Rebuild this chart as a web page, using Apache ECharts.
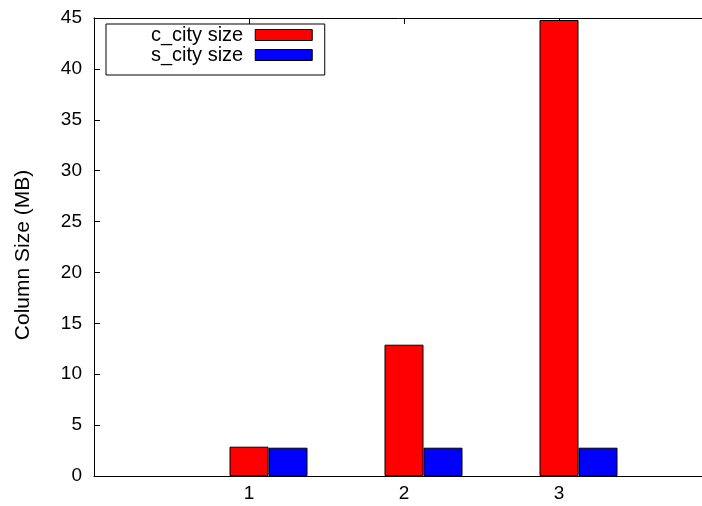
<!DOCTYPE html>
<html>
<head>
<meta charset="utf-8">
<script src="https://cdn.jsdelivr.net/npm/echarts@6/dist/echarts.min.js"></script>
<style>
  html, body { margin: 0; padding: 0; background: #fff; }
  #chart { width: 702px; height: 506px; }
</style>
</head>
<body>
<div id="chart"></div>
<script>
const categories = [1, 2, 3]
const cCitySize = [2.88, 12.9, 44.8]
const sCitySize = [2.78, 2.78, 2.78]
const yTicks = [0, 5, 10, 15, 20, 25, 30, 35, 40, 45]

const font = "'Liberation Sans', Arial, sans-serif"
const chart = echarts.init(document.getElementById('chart'))

const axisBase = {
  type: 'value',
  min: 0,
  max: 4,
  interval: 1,
  axisLine: { show: true, lineStyle: { color: '#000', width: 1 } },
  axisTick: { show: true, inside: true, length: 6, lineStyle: { color: '#000' } },
  splitLine: { show: false }
}

const option = {
  animation: false,
  backgroundColor: '#fff',
  textStyle: { fontFamily: font },
  grid: { left: 94, top: 18, right: -12, bottom: 30, outerBoundsMode: 'none', containLabel: false },
  legend: {
    data: ['c_city size', 's_city size'],
    orient: 'vertical',
    left: 106,
    top: 24,
    align: 'right',
    icon: 'rect',
    itemWidth: 57,
    itemHeight: 11,
    itemGap: 0,
    borderColor: '#000',
    borderWidth: 1,
    padding: [1, 12, 10, 45],
    itemStyle: { borderColor: '#000', borderWidth: 1 },
    textStyle: { fontSize: 20, color: '#000', fontFamily: font, lineHeight: 20, padding: [0, 7, 0, 0] }
  },
  xAxis: [
    {
      ...axisBase,
      position: 'bottom',
      axisLabel: {
        color: '#000',
        fontSize: 19,
        fontFamily: font,
        margin: 8,
        formatter: (v) => (categories.includes(v) ? String(v) : '')
      }
    },
    {
      ...axisBase,
      position: 'top',
      axisLabel: { show: false }
    }
  ],
  yAxis: {
    type: 'value',
    min: yTicks[0],
    max: yTicks[yTicks.length - 1],
    interval: 5,
    name: 'Column Size (MB)',
    nameLocation: 'middle',
    nameGap: 60,
    nameTextStyle: { color: '#000', fontSize: 21, fontFamily: font, padding: [0, 16, 0, 0] },
    axisLine: { show: true, lineStyle: { color: '#000', width: 1 } },
    axisTick: { show: true, inside: true, length: 6, lineStyle: { color: '#000' } },
    axisLabel: { color: '#000', fontSize: 19, fontFamily: font, margin: 12 },
    splitLine: { show: false }
  },
  series: [
    {
      name: 'pad',
      type: 'bar',
      barWidth: 39,
      barGap: '0%',
      silent: true,
      itemStyle: { color: 'transparent', borderWidth: 0 },
      data: categories.map((c) => [c, 0])
    },
    {
      name: 'c_city size',
      type: 'bar',
      barWidth: 39,
      barGap: '0%',
      itemStyle: { color: '#ff0000', borderColor: '#000', borderWidth: 1 },
      data: categories.map((c, i) => [c, cCitySize[i]])
    },
    {
      name: 's_city size',
      type: 'bar',
      barWidth: 39,
      barGap: '0%',
      itemStyle: { color: '#0000ff', borderColor: '#000', borderWidth: 1 },
      data: categories.map((c, i) => [c, sCitySize[i]])
    }
  ]
}

chart.setOption(option)
</script>
</body>
</html>
